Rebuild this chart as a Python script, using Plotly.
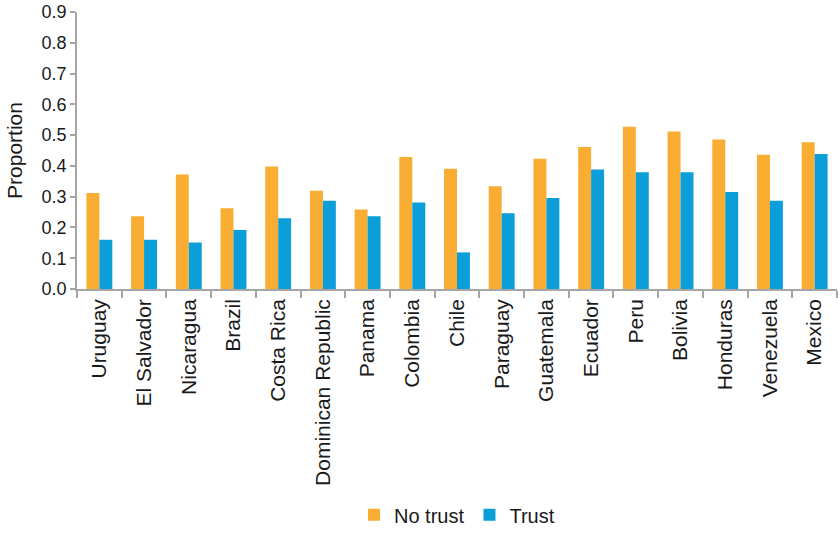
import plotly.graph_objects as go

countries = ["Uruguay", "El Salvador", "Nicaragua", "Brazil", "Costa Rica",
             "Dominican Republic", "Panama", "Colombia", "Chile", "Paraguay",
             "Guatemala", "Ecuador", "Peru", "Bolivia", "Honduras", "Venezuela", "Mexico"]
no_trust = [0.312, 0.236, 0.372, 0.262, 0.398, 0.319, 0.258, 0.429, 0.391, 0.334,
            0.423, 0.461, 0.527, 0.512, 0.486, 0.436, 0.477]
trust = [0.160, 0.160, 0.151, 0.192, 0.230, 0.287, 0.236, 0.281, 0.119, 0.246,
         0.296, 0.388, 0.379, 0.379, 0.315, 0.287, 0.439]
y_ticks = [0.0, 0.1, 0.2, 0.3, 0.4, 0.5, 0.6, 0.7, 0.8, 0.9]

FONT = "Liberation Sans, Arial, sans-serif"
TXT = "#1a1a1a"
AX = "#a6a6a6"

fig = go.Figure()
fig.add_trace(go.Bar(x=countries, y=no_trust, name="No trust", marker_color="#F9AE33",
                     marker_line_width=0))
fig.add_trace(go.Bar(x=countries, y=trust, name="Trust", marker_color="#0C9ED9",
                     marker_line_width=0))

fig.update_layout(
    width=838, height=535,
    margin=dict(l=77, r=1, t=12, b=238),
    paper_bgcolor="white", plot_bgcolor="white",
    barmode="group", bargap=0.42, bargroupgap=0,
    font=dict(family=FONT, color=TXT),
    legend=dict(orientation="h", x=0.5, xanchor="center", y=-0.815, yanchor="middle",
                font=dict(size=20, family=FONT, color=TXT), itemsizing="constant",
                traceorder="normal"),
    showlegend=True,
)
fig.update_xaxes(
    type="category", tickangle=-90, tickson="boundaries", automargin=False,
    ticks="outside", ticklen=7, tickcolor=AX, tickwidth=1.5,
    showline=True, linecolor=AX, linewidth=1.5, showgrid=False,
    tickfont=dict(size=21, family=FONT, color=TXT),
)
fig.update_yaxes(
    range=[0, 0.9], tickvals=y_ticks, ticktext=[f"{v:.1f}" for v in y_ticks],
    automargin=False,
    ticks="outside", ticklen=5, tickcolor=AX, tickwidth=1.5,
    showline=True, linecolor=AX, linewidth=1.5, showgrid=False, zeroline=False,
    tickfont=dict(size=18, family=FONT, color=TXT),
    title=dict(text="Proportion", font=dict(size=21, family=FONT, color=TXT), standoff=13),
)

fig.write_html(
    "out.html",
    config={"displayModeBar": False},
    post_script=(
        "var s=document.createElement('style');"
        "s.textContent='html,body{margin:0;padding:0;overflow:hidden;height:535px;width:838px;}';"
        "document.head.appendChild(s);"
    ),
)
